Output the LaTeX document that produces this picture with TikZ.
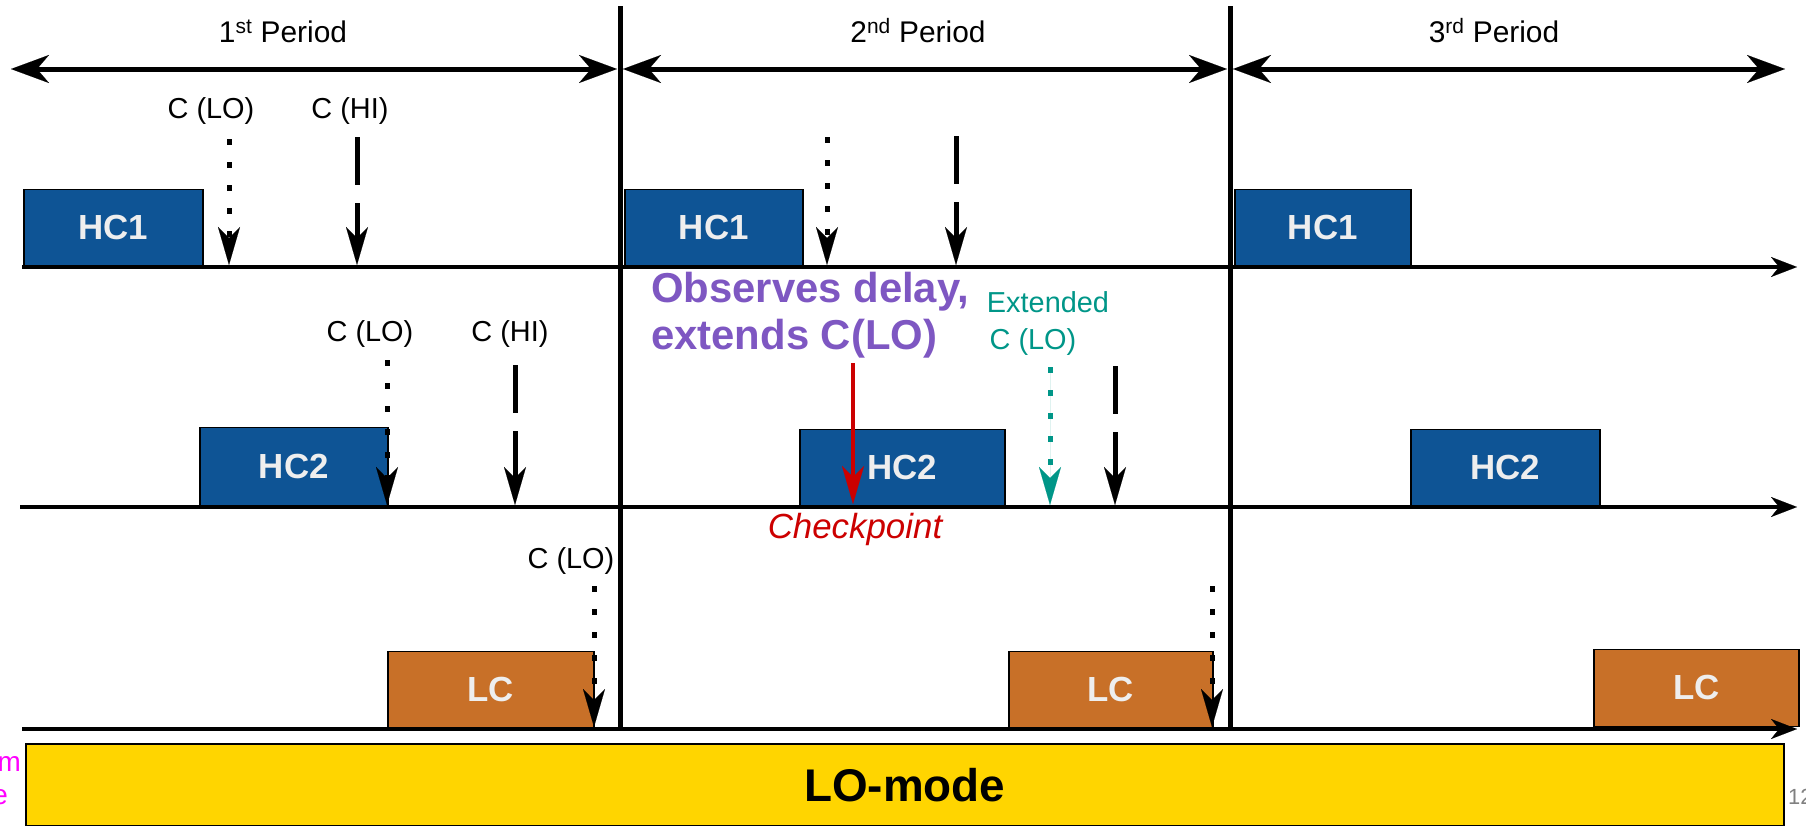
\documentclass[tikz,border=0pt]{standalone}
\usepackage{fontspec}
\setmainfont{Liberation Sans}
\usetikzlibrary{arrows.meta}
\definecolor{hcblue}{HTML}{0E5495}
\definecolor{lcorange}{HTML}{C87028}
\definecolor{lomode}{HTML}{FFD500}
\definecolor{obspurple}{HTML}{7E57C2}
\definecolor{extteal}{HTML}{009688}
\definecolor{ckred}{HTML}{CC0000}
\definecolor{boxtext}{HTML}{EEEEEE}
\definecolor{sidemag}{HTML}{FF00FF}
\begin{document}
\begin{tikzpicture}[x=1bp,y=-1bp,
  taskbox/.style={draw=black, line width=1.5bp, text=boxtext,
    font=\fontsize{35}{38}\selectfont\bfseries, inner sep=0pt,
    anchor=south west, minimum height=77bp},
  hcbox/.style={taskbox, fill=hcblue},
  lcbox/.style={taskbox, fill=lcorange},
  axisline/.style={line width=4bp, -{Stealth[length=26bp,width=20bp,inset=8bp,line width=0.1bp]}},
  divider/.style={line width=5bp},
  periodarrow/.style={line width=5bp,
    {Stealth[length=38bp,width=28bp,inset=12bp,line width=0.1bp]}-{Stealth[length=38bp,width=28bp,inset=12bp,line width=0.1bp]}},
  downtip/.style={-{Stealth[length=38bp,width=22bp,inset=11bp,line width=0.1bp]}},
  loarrow/.style={downtip, line width=5bp, dash pattern=on 5.5bp off 17.5bp},
  hiarrow/.style={downtip, line width=5bp, dash pattern=on 48bp off 18bp},
  ckarrow/.style={downtip, line width=4bp, draw=ckred},
  lbl/.style={font=\fontsize{29}{33}\selectfont, inner sep=0pt},
  periodlbl/.style={font=\fontsize{30}{34}\selectfont, inner sep=0pt},
]
\useasboundingbox (0,0) rectangle (1806,826);

% ---------- task boxes ----------
\node[hcbox, minimum width=179bp] (hc1a) at (23,267) {HC1};
\node[hcbox, minimum width=178bp] (hc1b) at (624,267) {HC1};
\node[hcbox, minimum width=176bp] (hc1c) at (1234,267) {HC1};
\node[hcbox, minimum width=188bp, minimum height=79bp] (hc2a) at (199,507) {HC2};
\node[hcbox, minimum width=205bp, minimum height=77bp] (hc2b) at (799,507) {HC2};
\node[hcbox, minimum width=189bp, minimum height=77bp] (hc2c) at (1410,507) {HC2};
\node[lcbox, minimum width=206bp] (lca) at (387,729) {LC};
\node[lcbox, minimum width=204bp] (lcb) at (1008,729) {LC};
\node[lcbox, minimum width=205bp] (lcc) at (1593,727) {LC};

% ---------- LO-mode bar ----------
\node[draw=black, line width=1.5bp, fill=lomode, anchor=north west, inner sep=0pt,
      minimum width=1758bp, minimum height=82bp,
      font=\fontsize{46}{50}\selectfont\bfseries] (lobar) at (25,743) {LO-mode};

% ---------- time axes ----------
\coordinate (ax1s) at (22,267); \coordinate (ax1e) at (1797,267);
\coordinate (ax2s) at (20,507); \coordinate (ax2e) at (1797,507);
\coordinate (ax3s) at (22,729); \coordinate (ax3e) at (1797,729);
\draw[axisline] (ax1s) -- (ax1e);
\draw[axisline] (ax2s) -- (ax2e);
\draw[axisline] (ax3s) -- (ax3e);

% ---------- period dividers ----------
\coordinate (d1t) at (620,6); \coordinate (d1b) at (620,731);
\coordinate (d2t) at (1230,6); \coordinate (d2b) at (1230,731);
\draw[divider] (d1t) -- (d1b);
\draw[divider] (d2t) -- (d2b);

% ---------- period arrows ----------
\coordinate (p1l) at (11,69); \coordinate (p1r) at (617,69);
\coordinate (p2l) at (623,69); \coordinate (p2r) at (1227,69);
\coordinate (p3l) at (1233,69); \coordinate (p3r) at (1785,69);
\draw[periodarrow] (p1l) -- (p1r);
\draw[periodarrow] (p2l) -- (p2r);
\draw[periodarrow] (p3l) -- (p3r);
\node[periodlbl] (per1) at (283,31) {1\textsuperscript{st} Period};
\node[periodlbl] (per2) at (918,31) {2\textsuperscript{nd} Period};
\node[periodlbl] (per3) at (1494,31) {3\textsuperscript{rd} Period};

% ---------- HC1 budgets ----------
\node[lbl] (l11) at (211,111) {C (LO)};
\node[lbl] (l12) at (350,111) {C (HI)};
\coordinate (a11s) at (229,139); \coordinate (a11e) at (229,265);
\coordinate (a12s) at (357,137); \coordinate (a12e) at (357,265);
\draw[loarrow] (a11s) -- (a11e);
\draw[hiarrow] (a12s) -- (a12e);
\coordinate (a13s) at (827,137); \coordinate (a13e) at (827,265);
\coordinate (a14s) at (956,136); \coordinate (a14e) at (956,265);
\draw[loarrow] (a13s) -- (a13e);
\draw[hiarrow] (a14s) -- (a14e);

% ---------- HC2 budgets ----------
\node[lbl] (l21) at (370,334) {C (LO)};
\node[lbl] (l22) at (510,334) {C (HI)};
\coordinate (a21s) at (387,360); \coordinate (a21e) at (387,505);
\coordinate (a22s) at (515,365); \coordinate (a22e) at (515,505);
\draw[loarrow] (a21s) -- (a21e);
\draw[hiarrow] (a22s) -- (a22e);

% ---------- second period HC2 ----------
\node[font=\fontsize{42}{47}\selectfont\bfseries, text=obspurple, align=left,
      anchor=north west, inner sep=0pt] (obs) at (651,272) {Observes delay,\\extends C(LO)};
\node[lbl, text=extteal] (ext1) at (1048,302) {Extended};
\node[lbl, text=extteal] (ext2) at (1033,342) {C (LO)};
\coordinate (ckstart) at (853,363); \coordinate (ckend) at (853,504);
\draw[ckarrow] (ckstart) -- (ckend);
\node[font=\fontsize{35}{38}\selectfont\itshape, text=ckred, inner sep=0pt] (ck) at (855,529) {Checkpoint};
\coordinate (a23s) at (1050,367); \coordinate (a23e) at (1050,505);
\draw[loarrow, draw=extteal, fill=extteal] (a23s) -- (a23e);
\coordinate (a24s) at (1115,366); \coordinate (a24e) at (1115,505);
\draw[hiarrow] (a24s) -- (a24e);

% ---------- LC budgets ----------
\node[lbl] (l31) at (571,561) {C (LO)};
\coordinate (a31s) at (594,586); \coordinate (a31e) at (594,727);
\draw[loarrow] (a31s) -- (a31e);
\coordinate (a32s) at (1212,586); \coordinate (a32e) at (1212,727);
\draw[loarrow] (a32s) -- (a32e);

% ---------- cut-off side texts ----------
\node[font=\fontsize{28}{32}\selectfont, text=sidemag, anchor=east, inner sep=0pt] (sidem) at (21,764) {m};
\node[font=\fontsize{28}{32}\selectfont, text=sidemag, anchor=east, inner sep=0pt] (sidee) at (8,797) {e};
\node[font=\fontsize{22}{26}\selectfont, text=gray, anchor=west, inner sep=0pt] (pagenum) at (1788,797) {12};
\end{tikzpicture}
\end{document}
